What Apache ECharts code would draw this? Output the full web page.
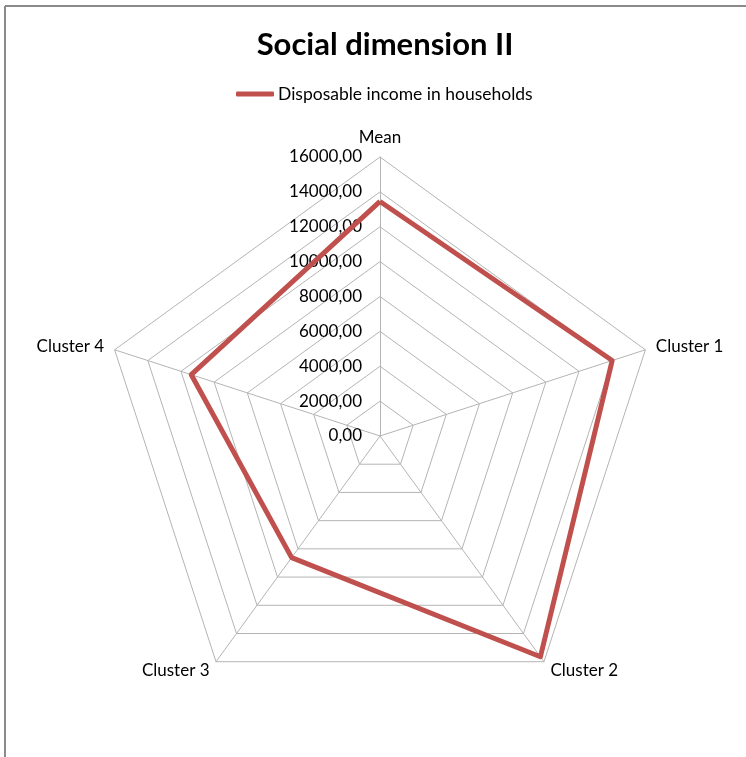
<!DOCTYPE html>
<html>
<head>
<meta charset="utf-8">
<script src="https://cdn.jsdelivr.net/npm/echarts@6/dist/echarts.min.js"></script>
<style>
  html, body { margin: 0; padding: 0; background: #fff; }
  #chart { width: 746px; height: 757px; }
</style>
</head>
<body>
<div id="chart"></div>
<script>
// Radar axes, listed in drawing order
const categories = ['Mean', 'Cluster 1', 'Cluster 2', 'Cluster 3', 'Cluster 4'];
// Disposable income per axis
const incomeValues = [13450, 14000, 15650, 8620, 11380];
const seriesName = 'Disposable income in households';
const axisMax = 16000;
const splitCount = 8;

const FONT = 'Lato, "Open Sans", sans-serif';

const chart = echarts.init(document.getElementById('chart'));

// ECharts lays indicators out counter-clockwise, so reverse everything after the first
const order = [0].concat(categories.slice(1).map((_, i) => categories.length - 1 - i));

const indicators = order.map((idx, i) => ({
  name: categories[idx],
  max: axisMax,
  min: 0,
  axisLabel: { show: i === 0 }
}));
const seriesData = order.map(idx => incomeValues[idx]);

chart.setOption({
  animation: false,
  title: {
    text: 'Social dimension II',
    left: 380,
    textAlign: 'center',
    top: 24,
    textStyle: { fontFamily: FONT, fontSize: 31, fontWeight: 'bold', color: '#000' }
  },
  legend: {
    data: [seriesName],
    top: 85,
    left: 236,
    itemWidth: 38,
    itemHeight: 5,
    itemGap: 4,
    padding: 0,
    icon: 'roundRect',
    textStyle: { fontFamily: FONT, fontSize: 17.5, color: '#000', padding: [0, 0, 0, -1] }
  },
  radar: {
    center: [380, 436],
    radius: 279,
    startAngle: 90,
    shape: 'polygon',
    splitNumber: splitCount,
    nameGap: 11,
    axisName: { fontFamily: FONT, fontSize: 17, color: '#000' },
    axisLine: { lineStyle: { color: '#b4b4b4', width: 1 } },
    splitLine: { lineStyle: { color: '#b4b4b4', width: 1 } },
    splitArea: { show: false },
    axisTick: { show: false },
    axisLabel: {
      fontFamily: FONT,
      fontSize: 17,
      color: '#000',
      margin: 18,
      formatter: v => v.toFixed(2).replace('.', ',')
    },
    indicator: indicators
  },
  graphic: [
    { type: 'line', shape: { x1: 5, y1: 6, x2: 746, y2: 6 }, style: { stroke: '#8a8a8a', lineWidth: 2 } },
    { type: 'line', shape: { x1: 5, y1: 6, x2: 5, y2: 757 }, style: { stroke: '#8a8a8a', lineWidth: 2 } }
  ],
  series: [{
    type: 'radar',
    name: seriesName,
    symbol: 'none',
    lineStyle: { color: '#C0504D', width: 5 },
    itemStyle: { color: '#C0504D' },
    data: [{ value: seriesData, name: seriesName }]
  }]
});
</script>
</body>
</html>
